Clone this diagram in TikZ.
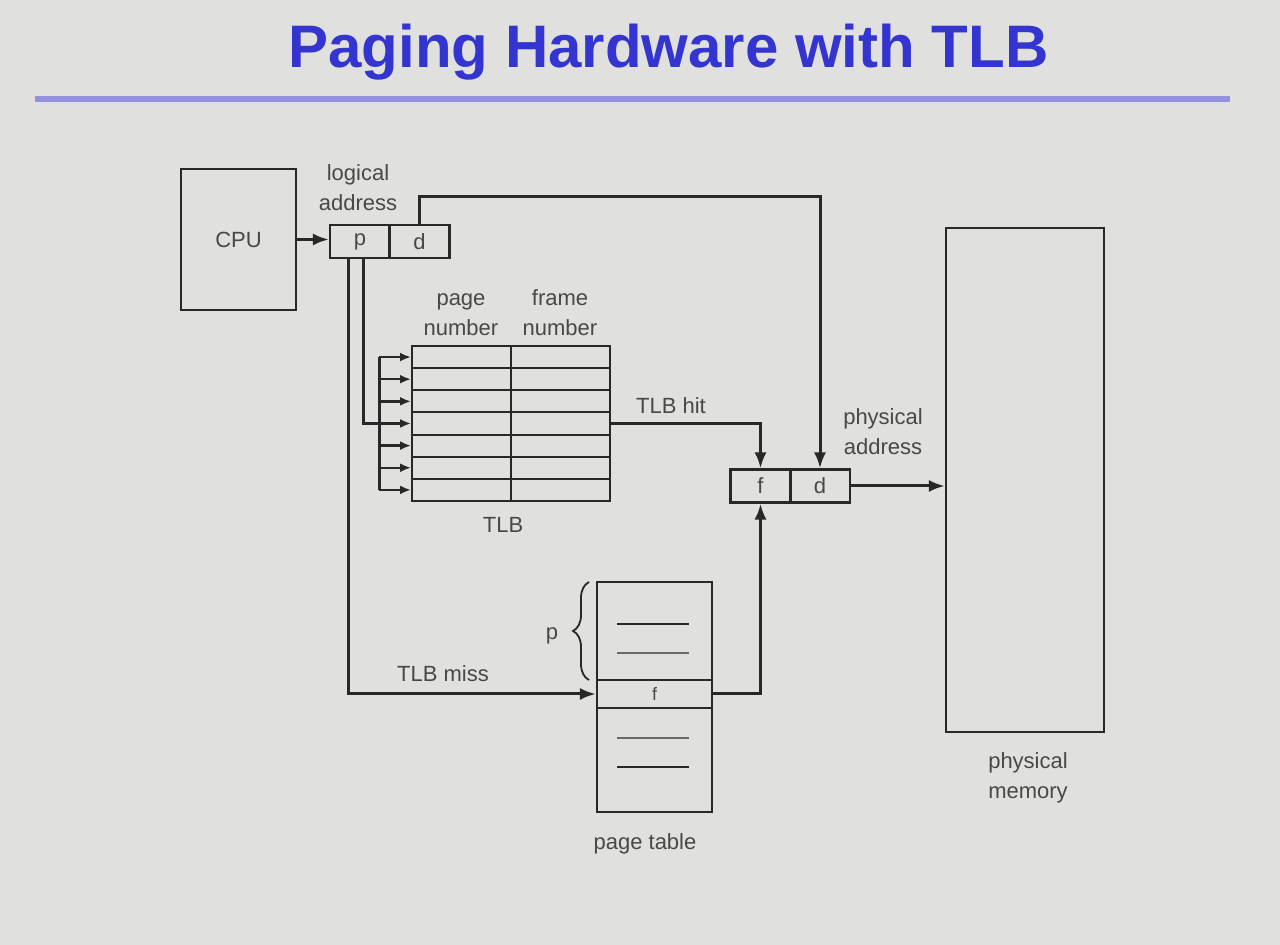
\documentclass[tikz,border=0pt]{standalone}
\usepackage{fontspec}
\setmainfont{Liberation Sans}
\usetikzlibrary{arrows.meta,decorations.pathreplacing}
\definecolor{slidebg}{RGB}{224,224,222}
\definecolor{titleblue}{RGB}{52,52,208}
\definecolor{rulecol}{RGB}{146,146,222}
\definecolor{ink}{RGB}{40,40,40}
\definecolor{txt}{RGB}{72,72,72}

\begin{document}
\begin{tikzpicture}[x=0.5pt,y=-0.5pt,
  box/.style={draw=ink,line width=1.1pt,inner sep=0pt,text=txt},
  cell/.style={box,minimum width=30pt,minimum height=16.5pt},
  tcell/.style={box,line width=1pt,minimum width=49.5pt,minimum height=11.07pt},
  lab/.style={text=txt,align=center,inner sep=0pt},
  link/.style={draw=ink,line width=1.5pt},
  arr/.style={link,-{Latex[length=8pt,width=6pt]}},
  tip/.style={link,line width=1.2pt,-{Latex[length=5.5pt,width=4.5pt]}},
  font=\fontsize{11}{15}\selectfont]
\fill[slidebg] (0,0) rectangle (1280,945);
\useasboundingbox (0,0) rectangle (1280,945);

% title
\node[anchor=base,text=titleblue,font=\fontsize{30}{36}\selectfont\bfseries] (title) at (668.5,68) {Paging Hardware with TLB};
\draw[rulecol,line width=3pt] (35,99) -- (1230,99);

% boxes
\node[box,minimum width=57.5pt,minimum height=70.5pt] (cpu) at (238.5,239.5) {CPU};
\node[cell] (p) at (360,241.5) {p};
\node[cell] (d) at (419.5,241.5) {d};
\node[cell] (f) at (760.5,486) {f};
\node[cell] (pd) at (820,486) {d};
\node[box,minimum width=79pt,minimum height=252pt] (mem) at (1025,480) {};
\foreach \i in {1,...,7}{
  \node[tcell] (tlb-\i-1) at ({461.5},{346+22.14*(\i-0.5)}) {};
  \node[tcell] (tlb-\i-2) at ({560.5},{346+22.14*(\i-0.5)}) {};
}

% page table
\node[box,minimum width=57.5pt,minimum height=49pt] (ptop) at (654.5,631) {};
\node[box,minimum width=57.5pt,minimum height=14pt,font=\small] (pf) at (654.5,694) {f};
\node[box,minimum width=57.5pt,minimum height=52pt] (pbot) at (654.5,760) {};
\draw[ink,line width=1.3pt] (617,624) -- (689,624);
\draw[ink!70,line width=0.9pt] (617,653) -- (689,653);
\draw[ink!70,line width=0.9pt] (617,738) -- (689,738);
\draw[ink,line width=1.3pt] (617,767) -- (689,767);
\draw[ink,line width=0.9pt,decorate,decoration={brace,amplitude=8pt}] (589,680) -- (589,582);

% labels
\node[lab] (lalab) at (358,188) {logical\\address};
\node[lab] (pnlab) at (461,315) {page\\number};
\node[lab] (fnlab) at (560,313) {frame\\number};
\node[lab] (tlblab) at (503,525) {TLB};
\node[lab] (hitlab) at (671,406) {TLB hit};
\node[lab] (misslab) at (443,674) {TLB miss};
\node[lab] (palab) at (883,432) {physical\\address};
\node[lab] (plab) at (552,636) {p};
\node[lab] (ptlab) at (645,844) {page table};
\node[lab] (pmlab) at (1028,778) {physical\\memory};

% connectors
\draw[arr] (cpu.east) -- (cpu.east -| p.west);
\draw[arr] (d.north) -- ++(0,-27) -| (pd.north);
\draw[link] ([xshift=1.5pt]p.south) |- ([xshift=-16pt]tlb-4-1.west);
\draw[link] ([xshift=-16pt]tlb-1-1.west) -- ([xshift=-16pt]tlb-7-1.west);
\foreach \i in {1,...,7}{
  \draw[tip] ([xshift=-16pt]tlb-\i-1.west) -- (tlb-\i-1.west);
}
\draw[arr] (tlb-4-2.east) -| (f.north);
\draw[arr] ([xshift=-6pt]p.south) |- (pf.west);
\draw[arr] (pf.east) -| (f.south);
\draw[arr] (pd.east) -- (pd.east -| mem.west);
\end{tikzpicture}
\end{document}
